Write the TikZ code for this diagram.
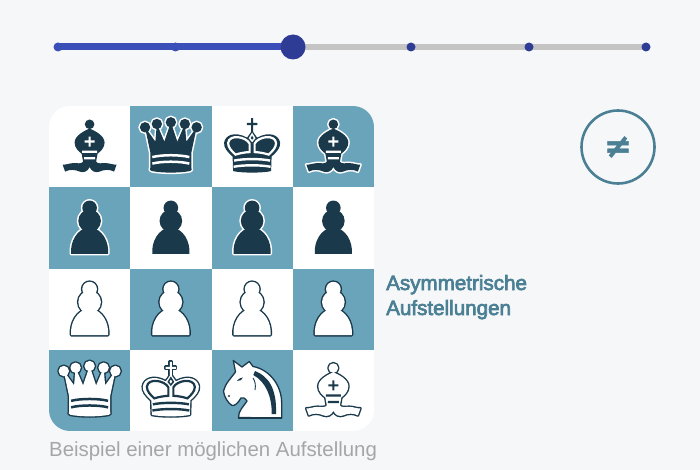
\documentclass[tikz,border=0pt]{standalone}
\usepackage{fontspec}
\setmainfont{Liberation Sans}
\newfontfamily\medfont[FakeBold=3.2]{Liberation Sans}
\newfontfamily\symfont[FakeBold=1.5]{DejaVu Sans Bold}
\definecolor{pagebg}{HTML}{F6F7F9}
\definecolor{sqblue}{HTML}{6AA4BB}
\definecolor{ink}{HTML}{1A3A4C}
\definecolor{teal}{HTML}{4A7F94}
\definecolor{capgrey}{HTML}{A6A6A6}
\definecolor{trackgrey}{HTML}{C4C4C4}
\definecolor{lineblue}{HTML}{3A4FB8}
\definecolor{thumbblue}{HTML}{2E3C96}
\tikzset{
  blackset/.style={pcunder/.style={draw=white,line width=3pt,line join=round},pcbody/.style={fill=ink},pcdetail/.style={fill=white},pcline/.style={draw=white}},
  blackplain/.style={pcunder/.style={draw=none},pcbody/.style={fill=ink},pcdetail/.style={fill=white},pcline/.style={draw=white}},
  whiteset/.style={pcunder/.style={draw=ink,line width=2.8pt,line join=round},pcbody/.style={fill=white},pcdetail/.style={fill=ink},pcline/.style={draw=ink}},
  dotnode/.style={circle,fill=thumbblue,inner sep=0pt,minimum size=9pt},
  dotdone/.style={circle,fill=lineblue,inner sep=0pt,minimum size=9pt},
  pawnpc/.pic={
    \def\shp{(-18.5,26) .. controls (-19.5,14) and (-13,1) .. (0,-1) .. controls (13,1) and (19.5,14) .. (18.5,26) -- cycle}
    \path[pcunder] (0,-20) circle[radius=7.3];
    \path[pcunder] (0,-7) circle[radius=11.3];
    \path[pcunder] \shp;
    \path[pcbody] (0,-20) circle[radius=7.3];
    \path[pcbody] (0,-7) circle[radius=11.3];
    \path[pcbody] \shp;
  },
  bishoppc/.pic={
    \def\shp{(0,-18) .. controls (5,-16) and (15,-11) .. (15,-4) .. controls (15,1) and (11,5) .. (8,7) -- (6.5,15) .. controls (8,17.5) and (12,16.5) .. (16,16.5) .. controls (20,16.5) and (24,18.5) .. (27,18) -- (24.5,25) .. controls (20,22.5) and (14,23) .. (10,25) .. controls (6,26.5) and (2,25) .. (0,20.5) .. controls (-2,25) and (-6,26.5) .. (-10,25) .. controls (-14,23) and (-20,22.5) .. (-24.5,25) -- (-27,18) .. controls (-24,18.5) and (-20,16.5) .. (-16,16.5) .. controls (-12,16.5) and (-8,17.5) .. (-6.5,15) -- (-8,7) .. controls (-11,5) and (-15,1) .. (-15,-4) .. controls (-15,-11) and (-5,-16) .. (0,-18) -- cycle}
    \path[pcunder] (0,-22.3) circle[radius=4.8];
    \path[pcunder] \shp;
    \path[pcbody] (0,-22.3) circle[radius=4.8];
    \path[pcbody] \shp;
    \path[pcdetail] (-1.1,-10) rectangle (1.1,0) (-5,-6.1) rectangle (5,-3.9);
    \path[pcdetail] (-7.5,4) rectangle (7.5,6.2) (-5.5,10.5) rectangle (5.5,12.7);
  },
  queenpc/.pic={
    \def\shp{(-20.5,6) -- (-25.8,-19.3) -- (-15.5,-5) -- (-14,-22.6) -- (-6.5,-5) -- (0,-24.3) -- (6.5,-5) -- (14,-22.6) -- (15.5,-5) -- (25.8,-19.3) -- (20.5,6) -- (20.5,21) .. controls (21.5,23) and (21,24) .. (19,24.5) .. controls (8,26.5) and (-8,26.5) .. (-19,24.5) .. controls (-21,24) and (-21.5,23) .. (-20.5,21) -- cycle}
    \foreach \qx/\qy in {-25.8/-19.3,-14/-22.6,0/-24.3,14/-22.6,25.8/-19.3}{\path[pcunder] (\qx,\qy) circle[radius=5.2];}
    \path[pcunder] \shp;
    \path[pcbody] \shp;
    \foreach \qx/\qy in {-25.8/-19.3,-14/-22.6,0/-24.3,14/-22.6,25.8/-19.3}{\path[pcbody] (\qx,\qy) circle[radius=5.2];}
    \path[pcline,line width=2.5pt] (-18.5,10.5) .. controls (-9,8) and (9,8) .. (18.5,10.5);
    \path[pcline,line width=2.5pt] (-18.5,17) .. controls (-9,14.5) and (9,14.5) .. (18.5,17);
  },
  kingpc/.pic={
    \def\shp{(-19,24.5) -- (-19.5,10) .. controls (-25,5) and (-28.5,1) .. (-28,-4) .. controls (-27,-11) and (-18,-16) .. (-5,-9) -- (0,-16) -- (5,-9) .. controls (18,-16) and (27,-11) .. (28,-4) .. controls (28.5,1) and (25,5) .. (19.5,10) -- (19,24.5) .. controls (10,26.5) and (-10,26.5) .. (-19,24.5) -- cycle}
    \path[pcunder] (-1.1,-28.5) rectangle (1.1,-14);
    \path[pcunder] (-5.2,-23.6) rectangle (5.2,-21.4);
    \path[pcunder] \shp;
    \path[pcbody] (-1.1,-28.5) -- (1.1,-28.5) -- (1.1,-23.6) -- (5.2,-23.6) -- (5.2,-21.4) -- (1.1,-21.4) -- (1.1,-14) -- (-1.1,-14) -- (-1.1,-21.4) -- (-5.2,-21.4) -- (-5.2,-23.6) -- (-1.1,-23.6) -- cycle;
    \path[pcbody] \shp;
    \path[pcline,line width=2.2pt] (-2.5,-3) .. controls (-6,-10) and (-23,-13) .. (-24,-3.5) .. controls (-24,1) and (-20,5) .. (-16.5,8) .. controls (-12,6.5) and (-6,5.5) .. (-2.5,5.5) -- cycle;
    \path[pcline,line width=2.2pt] (2.5,-3) .. controls (6,-10) and (23,-13) .. (24,-3.5) .. controls (24,1) and (20,5) .. (16.5,8) .. controls (12,6.5) and (6,5.5) .. (2.5,5.5) -- cycle;
    \path[pcline,line width=1.5pt] (0,-12.5) -- (2.5,-8.5) -- (0,-5.5) -- (-2.5,-8.5) -- cycle;
    \path[pcline,line width=2.4pt] (-18,14) .. controls (-9,12) and (9,12) .. (18,14);
    \path[pcline,line width=2.4pt] (-18.5,20.2) .. controls (-9,18.2) and (9,18.2) .. (18.5,20.2);
  }
}
\begin{document}
\begin{tikzpicture}[x=1pt,y=-1pt]
\useasboundingbox (0,0) rectangle (700,470);
\fill[pagebg] (0,0) rectangle (700,470);
% slider
\coordinate (t0) at (58,47);
\coordinate (t1) at (646,47);
\coordinate (tm) at (293,47);
\draw[trackgrey,line width=5.5pt] (t0) -- (t1);
\draw[lineblue,line width=7pt] (t0) -- (tm);
\node[dotdone] (d1) at (t0) {};
\node[dotdone] (d2) at (175.5,47) {};
\node[dotnode] (d3) at (411,47) {};
\node[dotnode] (d4) at (529,47) {};
\node[dotnode] (d5) at (t1) {};
\node[circle,fill=thumbblue,inner sep=0pt,minimum size=25pt] (thumb) at (tm) {};
% board
\begin{scope}
\clip[rounded corners=21pt] (49,106) rectangle (374,431);
\fill[white] (49,106) rectangle (374,431);
\foreach \cc/\rr in {1/0,3/0,0/1,2/1,1/2,3/2,0/3,2/3}{
  \fill[sqblue] ({49+\cc*81.25},{106+\rr*81.25}) rectangle ++(81.25,81.25);
}
\end{scope}
\foreach \cc in {0,1,2,3}{\foreach \rr in {0,1,2,3}{
  \coordinate (c\cc\rr) at ({89.6+\cc*81.25},{146.6+\rr*81.25});
}}
\pic[blackplain] at (c00) {bishoppc};
\pic[blackset] at (c10) {queenpc};
\pic[blackplain] at (c20) {kingpc};
\pic[blackset] at (c30) {bishoppc};
\pic[blackset] at (c01) {pawnpc};
\pic[blackplain] at (c11) {pawnpc};
\pic[blackset] at (c21) {pawnpc};
\pic[blackplain] at (c31) {pawnpc};
\pic[whiteset] at (c02) {pawnpc};
\pic[whiteset] at (c12) {pawnpc};
\pic[whiteset] at (c22) {pawnpc};
\pic[whiteset] at (c32) {pawnpc};
\pic[whiteset] at (c03) {queenpc};
\pic[whiteset] at (c13) {kingpc};
\pic[whiteset] at (c33) {bishoppc};
% knight
\path[fill=white,draw=ink,line width=1.3pt,line join=round]
  (238.5,417.5) .. controls (238,411) and (244,406) .. (247,401) .. controls (245,398) and (243,397) .. (241,398)
  .. controls (238,403) and (235,406) .. (232,405.5) .. controls (228,403) and (224,397) .. (223.5,391)
  .. controls (225,384) and (231,378) .. (235.5,372) -- (233.3,360.5) -- (242,367) -- (249.3,361.5) -- (253,366.5)
  .. controls (268,369) and (282,384) .. (281.7,404) -- (281.7,418) -- cycle;
\fill[ink] (255,371) .. controls (268,376) and (277,388) .. (276,414) -- (271.7,414) .. controls (272,397) and (266,382) .. (253.3,375) -- cycle;
\fill[ink] (238,416.5) -- (281.7,416.5) -- (281.7,418.7) -- (238,418.7) -- cycle;
\fill[ink] (237,381) .. controls (239,378) and (241,378) .. (243,377.5) .. controls (242,380) and (240,381) .. (237,381) -- cycle;
\fill[ink] (229,396) circle[radius=1.1];
\draw[ink,line width=0.9pt] (255,390) .. controls (256,385) and (255,381) .. (253,378);
% inequality badge
\node[circle,draw=teal,line width=2.6pt,inner sep=0pt,minimum size=73pt] (badge) at (618,147) {};
\node[text=teal,font=\symfont\fontsize{33}{33}\selectfont] (neq) at (badge.center) {≠};
% labels
\node[anchor=base west,inner sep=0pt,text=teal,font=\medfont\fontsize{20.6}{24}\selectfont] (l1) at (386,290) {Asymmetrische};
\node[anchor=base west,inner sep=0pt,text=teal,font=\medfont\fontsize{20.6}{24}\selectfont] (l2) at (386,315) {Aufstellungen};
\node[anchor=base west,inner sep=0pt,text=capgrey,font=\fontsize{20.4}{24}\selectfont] (cap) at (49,456) {Beispiel einer möglichen Aufstellung};
\end{tikzpicture}
\end{document}
